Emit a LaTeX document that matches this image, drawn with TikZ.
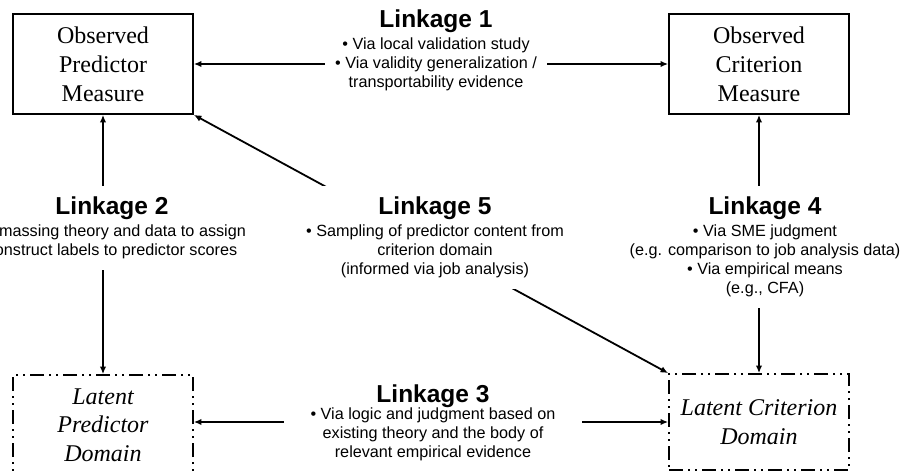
\documentclass[tikz,border=0pt]{standalone}
\usepackage{fontspec}
\setmainfont{Liberation Serif}
\setsansfont{Liberation Sans}
\usetikzlibrary{arrows.meta}
\newcommand{\linkhead}[1]{{\fontsize{24.5}{24.5}\selectfont\bfseries #1}}

\begin{document}
\begin{tikzpicture}[x=1pt, y=-1pt,
    measure/.style={draw, line width=1.8pt, minimum width=180pt, minimum height=100pt,
      align=center, font=\fontsize{24}{29}\selectfont},
    latent/.style={measure, dash pattern=on 14pt off 5pt on 2pt off 5pt on 2pt off 5pt,
      font=\fontsize{24}{28.5}\selectfont\itshape},
    linkage/.style={fill=white, align=center, anchor=north, inner xsep=10pt, inner ysep=11pt,
      font=\sffamily\fontsize{16.2}{19}\selectfont},
    link/.style={{Latex[length=7.5pt,width=6.5pt]}-{Latex[length=7.5pt,width=6.5pt]}, line width=1.8pt}]
    \useasboundingbox (0,0) rectangle (908,473);
    \node[measure] (obsP) at (103,64) {Observed\\Predictor\\Measure};
    \node[measure] (obsC) at (759,64) {Observed\\Criterion\\Measure};
    \node[latent, minimum height=100pt] (latP) at (103,425) {Latent\\Predictor\\Domain};
    \node[latent, minimum height=96pt] (latC) at (759,422) {Latent Criterion\\Domain};

    \draw[link] (obsP) -- (obsC);
    \draw[link] (obsP) -- (latP);
    \draw[link] (latP.east |- latC.west) -- (latC.west);
    \draw[link] (obsC) -- (latC);
    \draw[link] (obsP.south east) -- (latC.north west);

    \node[linkage] (l1) at (436,-1.5) {\linkhead{Linkage 1}\\[3pt]
        • Via local validation study\\
        • Via validity generalization /\\
        transportability evidence};
    \node[linkage] (l2) at (112,186) {\linkhead{Linkage 2}\\[3pt]
        • Amassing theory and data to assign\\
        construct labels to predictor scores};
    \node[linkage] (l5) at (435,186) {\linkhead{Linkage 5}\\[3pt]
        • Sampling of predictor content from\\
        criterion domain\\
        (informed via job analysis)};
    \node[linkage] (l4) at (765,186) {\linkhead{Linkage 4}\\[3pt]
        • Via SME judgment\\
        (e.g. comparison to job analysis data)\\
        • Via empirical means\\
        (e.g., CFA)};
    \node[linkage, inner xsep=27pt] (l3) at (433,374) {\linkhead{Linkage 3}\\[-2pt]
        • Via logic and judgment based on\\
        existing theory and the body of\\
        relevant empirical evidence};
\end{tikzpicture}
\end{document}
